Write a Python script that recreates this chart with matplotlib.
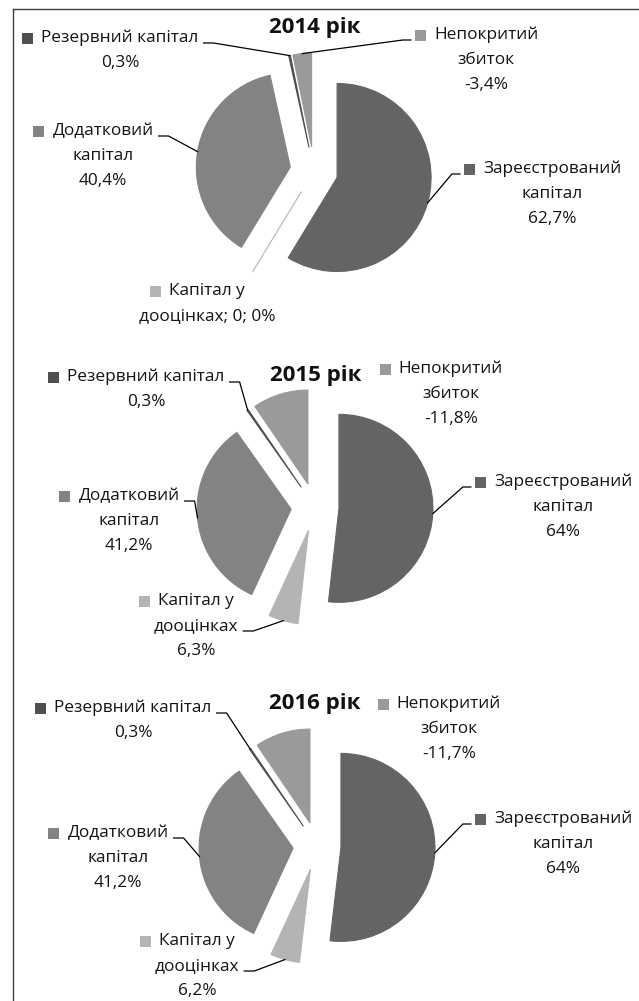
import numpy as np
import matplotlib
matplotlib.use('Agg')
import matplotlib.pyplot as plt
from matplotlib.patches import Rectangle

plt.rcParams['font.family'] = ['Open Sans', 'DejaVu Sans']

# дані
years = ['2014 рік', '2015 рік', '2016 рік']
categories = ['Зареєстрований\nкапітал', 'Капітал у\nдооцінках', 'Додатковий\nкапітал',
              'Резервний капітал', 'Непокритий\nзбиток']
shares_2014 = [62.7, 0, 40.4, 0.3, -3.4]
shares_2015 = [64, 6.3, 41.2, 0.3, -11.8]
shares_2016 = [64, 6.2, 41.2, 0.3, -11.7]
colors = ['#646464', '#b4b4b4', '#838383', '#4f4f4f', '#9a9a9a']

# розмітка (в пікселях, y від верху)
W, H = 639, 1001
centers = [(314, 171), (315, 507), (317, 846)]
title_pos = [(315, 28), (316, 375), (315, 703)]
label_pos = [
    [(552, 169), (207, 291), (103, 131), (120, 38), (486, 35)],
    [(563, 482), (196, 601), (129, 496), (146, 377), (451, 369)],
    [(563, 819), (197, 941), (118, 833), (133, 708), (449, 704)],
]
leaders = [
    [('left', 0), None, ('right', 0), ('right', 0), ('left', 0)],
    [('left', 0), ('right', 1), ('right', 0), ('right', 0), None],
    [('left', 0), ('right', 1), ('right', 0), ('right', 0), None],
]
R = 94
EXPL = 24
LINE = 25
FS = 12.4


def fmt(v):
    return f"{v:g}".replace('.', ',')


fig = plt.figure(figsize=(W / 100, H / 100), dpi=100)
ax = fig.add_axes([0, 0, 1, 1])
renderer = fig.canvas.get_renderer()

all_shares = [shares_2014, shares_2015, shares_2016]
for j, vals in enumerate(all_shares):
    cx, cy = centers[j]
    wedges, _ = ax.pie(np.abs(vals), colors=colors, startangle=90, counterclock=False,
                       radius=R, center=(cx, H - cy), explode=[EXPL] * len(vals),
                       wedgeprops=dict(linewidth=0.8), frame=True)
    for w, c in zip(wedges, colors):
        w.set_edgecolor(c)
    ax.set_xlim(0, W)
    ax.set_ylim(0, H)
    ax.set_aspect('equal')
    inv = ax.transData.inverted()

    tx, ty = title_pos[j]
    ax.text(tx, H - ty, years[j], ha='center', va='center', fontsize=16,
            fontweight='bold', color='#111111')

    for i, name in enumerate(categories):
        v = vals[i]
        lines = name.split('\n')
        if v == 0:
            lines[-1] += f"; {fmt(v)}; {fmt(v)}%"
        else:
            lines.append(fmt(v) + '%')
        lx, ly = label_pos[j][i]
        boxes = []
        for k, s in enumerate(lines):
            t = ax.text(lx, H - (ly + LINE * k), s, ha='center', va='center',
                        fontsize=FS, color='#141414')
            bb = t.get_window_extent(renderer)
            (x0, y0), (x1, y1) = inv.transform([[bb.x0, bb.y0], [bb.x1, bb.y1]])
            boxes.append((x0, x1))
        # маркер легенди
        ms = 11
        mx = boxes[0][0] - 8 - ms
        ax.add_patch(Rectangle((mx, H - ly - ms / 2), ms, ms, facecolor=colors[i], lw=0))
        # лінія-виноска
        ld = leaders[j][i]
        if ld is not None:
            side, k = ld
            yl = H - (ly + LINE * k + 5)
            if side == 'right':
                xs = boxes[k][1] + 5
                xe = xs + 10
            else:
                xs = mx - 4
                xe = xs - 8
            w = wedges[i]
            th = np.deg2rad((w.theta1 + w.theta2) / 2)
            px = w.center[0] + w.r * np.cos(th)
            py = w.center[1] + w.r * np.sin(th)
            ax.plot([xs, xe, px], [yl, yl, py], color='black', lw=0.9)

# рамка
ax.plot([13, 13], [0, H - 9], color='#404040', lw=1)
ax.plot([13, W], [H - 9, H - 9], color='#404040', lw=1)

ax.set_xlim(0, W)
ax.set_ylim(0, H)
ax.axis('off')
fig.savefig('out.png', dpi=100)
